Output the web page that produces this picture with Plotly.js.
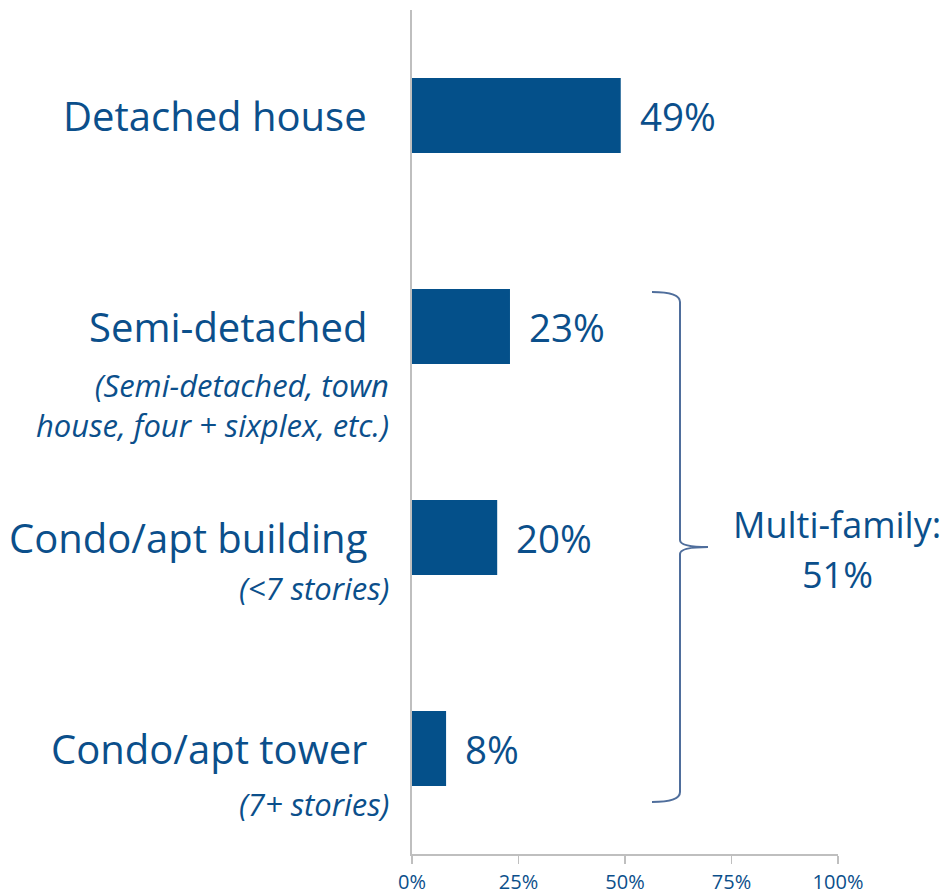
<!DOCTYPE html>
<html>
<head>
<meta charset="utf-8">
<script src="https://cdn.plot.ly/plotly-3.0.1.min.js"></script>
<style>html,body{margin:0;padding:0;background:#fff;}#chart{width:944px;height:896px;}</style>
</head>
<body>
<div id="chart"></div>
<script>
// ---- data ----
const categories = ["Detached house", "Semi-detached", "Condo/apt building", "Condo/apt tower"];
const subtitles = ["", "(Semi-detached, town<br>house, four + sixplex, etc.)", "(<7 stories)", "(7+ stories)"];
const shares = [49, 23, 20, 8];
const tickValues = [0, 25, 50, 75, 100];
const tickLabels = ["0%", "25%", "50%", "75%", "100%"];
const groupLabelLines = ["Multi-family:", "51%"];

// ---- styles ----
const BLUE = "#04508A";
const TEXT = "#0B4F8B";
const FONT = "'Open Sans', Lato, sans-serif";
const W = 944, H = 896;
const M = {l: 412, r: 106, t: 10, b: 42};
const pw = W - M.l - M.r, ph = H - M.t - M.b;
const px = x => (x - M.l) / pw;
const py = y => (H - M.b - y) / ph;

const subShift = [0, -78, -50, -55];

const annotations = [];
categories.forEach((c, i) => {
  annotations.push({xref: "paper", yref: "y", x: 0, y: c, xanchor: "right", yanchor: "middle",
    xshift: -43, text: c, showarrow: false, font: {family: FONT, size: 40, color: TEXT}});
  if (subtitles[i]) {
    annotations.push({xref: "paper", yref: "y", x: 0, y: c, xanchor: "right", yanchor: "middle",
      xshift: -21, yshift: subShift[i], text: "<i>" + subtitles[i] + "</i>", align: "right",
      showarrow: false, font: {family: FONT, size: 31, color: TEXT}});
  }
  annotations.push({xref: "x", yref: "y", x: shares[i], y: c, xanchor: "left", yanchor: "middle",
    xshift: 17, text: shares[i] + "%", showarrow: false, font: {family: FONT, size: 38.5, color: TEXT}});
});
const groupY = [524, 574];
groupLabelLines.forEach((t, i) => {
  annotations.push({xref: "paper", yref: "paper", x: px(837), y: py(groupY[i]), xanchor: "center", yanchor: "middle",
    text: t, showarrow: false, font: {family: FONT, size: 36, color: TEXT}});
});

const brace = `M ${px(652)},${py(292)} Q ${px(680)},${py(292)} ${px(680)},${py(302)} ` +
  `L ${px(680)},${py(540)} Q ${px(680)},${py(547)} ${px(708)},${py(547)} ` +
  `Q ${px(680)},${py(547)} ${px(680)},${py(554)} L ${px(680)},${py(792)} ` +
  `Q ${px(680)},${py(802)} ${px(652)},${py(802)}`;

const trace = {
  type: "bar", orientation: "h", x: shares, y: categories,
  marker: {color: BLUE}, width: 0.355, hoverinfo: "skip"
};

const layout = {
  width: W, height: H, margin: M,
  paper_bgcolor: "#fff", plot_bgcolor: "#fff", showlegend: false,
  font: {family: FONT, color: TEXT},
  xaxis: {range: [0, 100], tickvals: tickValues, ticktext: tickLabels, showgrid: false, zeroline: false,
    showline: true, linecolor: "#BFBFBF", linewidth: 1.5, ticks: "outside", ticklen: 8, tickwidth: 1.5,
    tickcolor: "#BFBFBF", ticklabelstandoff: 1, tickfont: {family: FONT, size: 20, color: TEXT}, fixedrange: true},
  yaxis: {type: "category", categoryarray: categories, autorange: false, range: [3.5, -0.5],
    showticklabels: false, showgrid: false, zeroline: false, showline: true, linecolor: "#BFBFBF",
    linewidth: 2, ticks: "", fixedrange: true},
  annotations: annotations,
  shapes: [{type: "path", xref: "paper", yref: "paper", path: brace, line: {color: "#4F6E9C", width: 2}}]
};

Plotly.newPlot("chart", [trace], layout, {displayModeBar: false, staticPlot: true});
</script>
</body>
</html>
